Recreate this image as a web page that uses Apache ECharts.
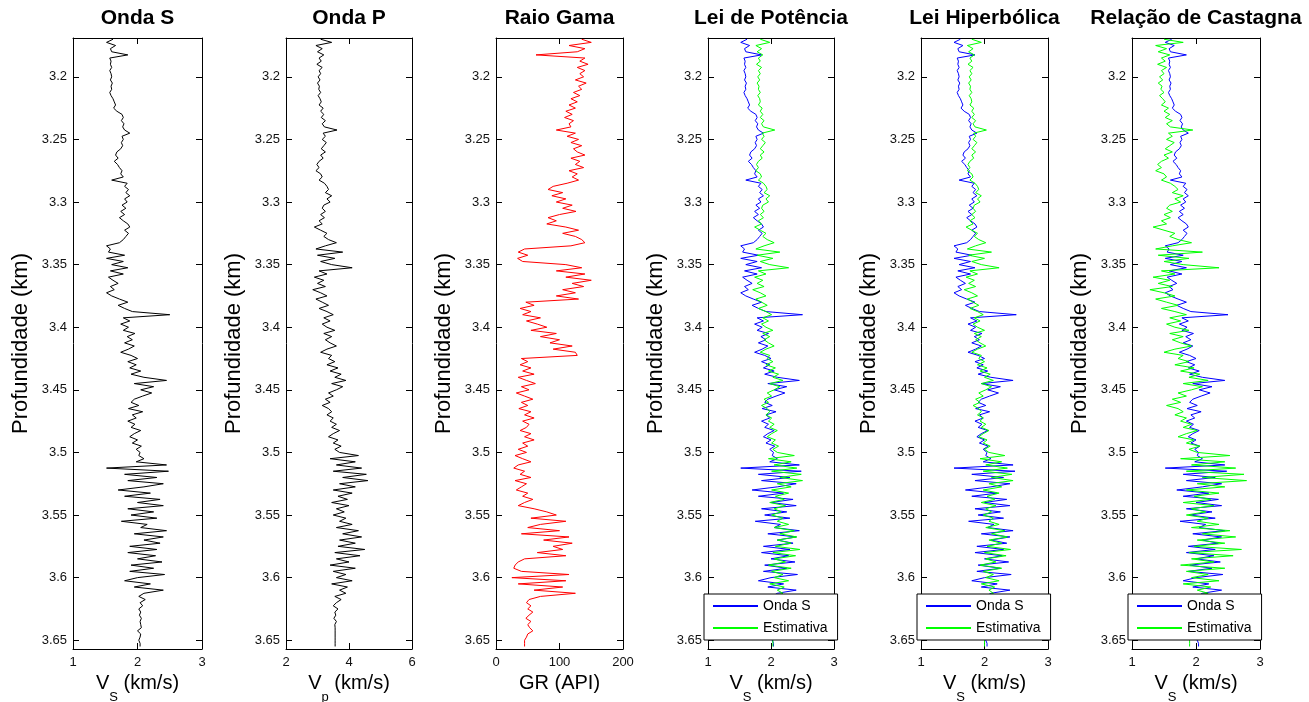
<!DOCTYPE html>
<html><head><meta charset="utf-8">
<script src="https://cdn.jsdelivr.net/npm/echarts@6/dist/echarts.min.js"></script>
<style>html,body{margin:0;padding:0;background:#fff}#c{width:1309px;height:702px}</style>
</head><body><div id="c"></div>
<script>
// sampling grid of the logs (km)
const depthStart = 3.17, depthStep = 0.0025;
const depthTicks = [3.2, 3.25, 3.3, 3.35, 3.4, 3.45, 3.5, 3.55, 3.6, 3.65];
const titles = ['Onda S', 'Onda P', 'Raio Gama', 'Lei de Potência', 'Lei Hiperbólica', 'Relação de Castagna'];
const xTicks = [[1, 2, 3], [2, 4, 6], [0, 100, 200], [1, 2, 3], [1, 2, 3], [1, 2, 3]];
const legendNames = ['Onda S', 'Estimativa'];

// Onda S (km/s)
const vs = [1.62,1.52,1.66,1.58,1.60,1.85,1.57,1.59,1.58,1.60,1.57,1.59,1.60,1.58,1.61,1.59,
1.60,1.57,1.59,1.62,1.64,1.66,1.63,1.68,1.76,1.78,1.75,1.79,1.77,1.80,1.88,1.76,
1.78,1.75,1.77,1.74,1.68,1.66,1.70,1.64,1.69,1.72,1.76,1.74,1.78,1.60,1.84,1.80,
1.86,1.82,1.88,1.80,1.84,1.76,1.82,1.74,1.80,1.72,1.78,1.85,1.88,1.80,1.86,1.82,
1.78,1.72,1.52,1.58,1.55,1.80,1.52,1.78,1.60,1.85,1.58,1.78,1.55,1.62,1.70,1.58,
1.64,1.52,1.60,1.72,1.85,1.70,1.80,1.92,2.50,1.78,1.88,1.74,1.86,1.78,1.96,1.84,
1.92,1.80,1.95,1.86,1.74,1.90,2.00,1.85,1.98,1.88,2.05,1.90,2.10,2.45,1.95,2.25,
2.05,2.22,2.08,1.95,1.90,2.02,1.86,2.08,1.92,1.98,1.85,1.96,1.90,2.05,1.95,1.88,
2.00,1.92,2.06,1.98,2.04,2.02,2.10,1.98,2.45,1.52,2.48,1.80,2.30,1.85,2.40,2.10,
1.70,2.20,1.80,2.35,2.00,2.40,1.85,2.25,1.90,2.30,1.75,2.15,2.05,2.45,1.95,2.40,
2.10,2.35,1.88,2.30,1.85,2.28,2.00,2.38,1.90,2.25,1.88,2.42,2.00,1.80,2.20,1.95,
2.40,2.10,2.02,2.12,2.04,2.08,2.02,2.05,2.03,2.06,2.04,2.05,2.06,2.00,2.05,2.04,
2.02,2.04,2.04];

// Onda P (km/s)
const vp = [3.10,3.45,2.95,3.15,3.00,3.20,3.05,3.12,2.98,3.15,3.05,3.10,3.02,3.08,3.00,3.06,
3.04,3.10,3.02,3.08,3.12,3.05,3.18,3.10,3.20,3.12,3.25,3.15,3.22,3.62,3.18,3.25,
3.15,3.28,3.20,3.12,3.25,3.10,3.18,3.05,2.98,3.05,2.95,3.10,3.15,3.05,3.22,3.30,
3.35,3.25,3.45,3.30,3.40,3.20,3.15,3.25,3.10,3.22,3.05,3.15,2.90,3.10,3.30,3.20,
3.35,3.60,3.25,2.95,3.80,3.00,3.55,3.10,3.45,4.10,3.05,3.30,2.90,3.20,3.00,3.25,
2.85,3.10,3.30,2.95,3.15,3.35,3.05,3.30,3.50,3.20,3.40,3.15,3.30,3.55,3.20,3.45,
3.25,3.40,3.60,3.30,3.10,3.45,3.35,3.55,3.30,3.65,3.40,3.75,3.55,3.90,3.45,3.80,
3.60,3.35,3.50,3.25,3.40,3.15,3.35,3.45,3.30,3.50,3.40,3.60,3.45,3.70,3.50,3.35,
3.65,3.50,3.75,3.55,3.70,4.30,3.40,4.20,3.60,4.40,3.50,4.55,3.80,4.60,3.70,4.20,
3.50,4.10,3.65,3.95,3.45,4.00,3.60,3.85,3.50,3.90,3.70,4.10,3.60,4.30,3.80,4.40,
3.70,4.20,3.65,4.50,3.55,4.35,3.60,4.00,3.40,4.20,3.50,3.90,3.60,4.10,3.45,3.95,
3.70,3.90,3.55,3.75,3.60,3.50,3.65,3.55,3.58,3.52,3.60,3.55,3.56,3.56,3.56,3.56,
3.56,3.56,3.56];

// Raio Gama (API)
const gr = [135,150,115,140,128,63,140,132,145,128,140,132,138,125,142,130,
135,122,132,118,128,115,125,110,120,108,122,115,118,95,125,112,
130,118,135,122,128,140,118,132,125,138,115,128,120,130,112,90,
82,105,88,110,95,120,105,126,100,82,95,80,110,130,105,125,
135,140,118,45,35,50,34,42,110,135,95,140,110,150,120,138,
105,125,95,130,47,60,38,55,42,70,48,65,80,55,95,70,
100,85,120,90,125,128,40,50,38,55,42,60,35,48,62,40,
52,32,45,58,40,50,36,55,45,60,42,52,48,38,55,45,
60,42,50,35,48,30,42,55,35,28,45,38,55,30,48,40,
32,50,42,58,45,35,60,80,95,55,110,70,50,100,40,115,
75,120,90,105,65,110,45,35,30,28,40,115,25,110,35,105,
60,125,70,52,48,55,50,58,52,47,55,50,53,58,50,48,
45,45,45];

// Estimativa - Lei de Potência (km/s)
const estPot = [1.83,1.98,1.76,1.85,1.78,1.87,1.80,1.83,1.77,1.85,1.80,1.83,1.79,1.82,1.78,1.81,
1.80,1.83,1.79,1.82,1.83,1.80,1.86,1.83,1.87,1.83,1.89,1.85,1.88,2.06,1.86,1.89,
1.85,1.91,1.87,1.83,1.89,1.83,1.86,1.80,1.77,1.80,1.76,1.83,1.85,1.80,1.88,1.92,
1.94,1.89,1.98,1.92,1.96,1.87,1.85,1.89,1.83,1.88,1.80,1.85,1.74,1.83,1.92,1.87,
1.94,2.05,1.89,1.76,2.14,1.78,2.03,1.83,1.98,2.28,1.80,1.92,1.74,1.87,1.78,1.89,
1.71,1.83,1.92,1.76,1.85,1.94,1.80,1.92,2.01,1.87,1.96,1.85,1.92,2.03,1.87,1.98,
1.89,1.96,2.05,1.92,1.83,1.98,1.94,2.03,1.92,2.07,1.96,2.12,2.03,2.19,1.98,2.14,
2.05,1.94,2.01,1.89,1.96,1.85,1.94,1.98,1.92,2.01,1.96,2.05,1.98,2.10,2.01,1.94,
2.07,2.01,2.12,2.03,2.10,2.37,1.96,2.32,2.05,2.41,2.01,2.48,2.14,2.50,2.10,2.32,
2.01,2.28,2.07,2.21,1.98,2.23,2.05,2.16,2.01,2.19,2.10,2.28,2.05,2.37,2.14,2.41,
2.10,2.32,2.07,2.46,2.03,2.39,2.05,2.23,1.96,2.32,2.01,2.19,2.05,2.28,1.98,2.21,
2.10,2.19,2.03,2.12,2.05,2.01,2.07,2.03,2.04,2.01,2.05,2.03,2.03,2.03,2.03,2.03,
2.03,2.03,2.03];

// Estimativa - Lei Hiperbólica (km/s)
const estHip = [1.80,1.95,1.73,1.82,1.75,1.84,1.77,1.80,1.74,1.82,1.77,1.80,1.76,1.79,1.75,1.78,
1.77,1.80,1.76,1.79,1.80,1.77,1.83,1.80,1.84,1.80,1.86,1.82,1.85,2.03,1.83,1.86,
1.82,1.88,1.84,1.80,1.86,1.80,1.83,1.77,1.74,1.77,1.73,1.80,1.82,1.77,1.85,1.89,
1.91,1.86,1.95,1.89,1.93,1.84,1.82,1.86,1.80,1.85,1.77,1.82,1.71,1.80,1.89,1.84,
1.91,2.02,1.86,1.73,2.11,1.75,2.00,1.80,1.95,2.23,1.77,1.89,1.71,1.84,1.75,1.86,
1.68,1.80,1.89,1.73,1.82,1.91,1.77,1.89,1.98,1.84,1.93,1.82,1.89,2.00,1.84,1.95,
1.86,1.93,2.02,1.89,1.80,1.95,1.91,2.00,1.89,2.04,1.93,2.09,2.00,2.14,1.95,2.11,
2.02,1.91,1.98,1.86,1.93,1.82,1.91,1.95,1.89,1.98,1.93,2.02,1.95,2.07,1.98,1.91,
2.04,1.98,2.09,2.00,2.07,2.32,1.93,2.27,2.02,2.36,1.98,2.43,2.11,2.45,2.07,2.27,
1.98,2.23,2.04,2.16,1.95,2.18,2.02,2.11,1.98,2.14,2.07,2.23,2.02,2.32,2.11,2.36,
2.07,2.27,2.04,2.41,2.00,2.34,2.02,2.18,1.93,2.27,1.98,2.14,2.02,2.23,1.95,2.16,
2.07,2.14,2.00,2.09,2.02,1.98,2.04,2.00,2.01,1.98,2.02,2.00,2.00,2.00,2.00,2.00,
2.00,2.00,2.00];

// Estimativa - Relação de Castagna (km/s)
const estCast = [1.50,1.80,1.37,1.54,1.41,1.59,1.46,1.52,1.40,1.54,1.46,1.50,1.43,1.48,1.41,1.47,
1.45,1.50,1.43,1.48,1.52,1.46,1.57,1.50,1.59,1.52,1.63,1.54,1.60,1.95,1.57,1.63,
1.54,1.66,1.59,1.52,1.63,1.50,1.57,1.46,1.40,1.46,1.37,1.50,1.54,1.46,1.60,1.67,
1.72,1.63,1.80,1.67,1.76,1.59,1.54,1.63,1.50,1.60,1.46,1.54,1.33,1.50,1.67,1.59,
1.72,1.93,1.63,1.37,2.10,1.41,1.89,1.50,1.80,2.36,1.46,1.67,1.33,1.59,1.41,1.63,
1.28,1.50,1.67,1.37,1.54,1.72,1.46,1.67,1.85,1.59,1.76,1.54,1.67,1.89,1.59,1.80,
1.63,1.76,1.93,1.67,1.50,1.80,1.72,1.89,1.67,1.97,1.76,2.06,1.89,2.19,1.80,2.10,
1.93,1.72,1.85,1.63,1.76,1.54,1.72,1.80,1.67,1.85,1.76,1.93,1.80,2.02,1.85,1.72,
1.97,1.85,2.06,1.89,2.02,2.53,1.76,2.45,1.93,2.62,1.85,2.75,2.10,2.79,2.02,2.45,
1.85,2.36,1.97,2.23,1.80,2.28,1.93,2.15,1.85,2.19,2.02,2.36,1.93,2.53,2.10,2.62,
2.02,2.45,1.97,2.71,1.89,2.58,1.93,2.28,1.76,2.45,1.85,2.19,1.93,2.36,1.80,2.23,
2.02,2.19,1.89,2.06,1.93,1.85,1.97,1.89,1.91,1.86,1.93,1.89,1.90,1.90,1.90,1.90,
1.90,1.90,1.90];

const FONT = '"Liberation Sans", Arial, Helvetica, sans-serif';
const toPts = arr => arr.map((v, i) => [v, +(depthStart + i * depthStep).toFixed(5)]);

const panels = [
  {left: 73,   width: 129, xname: '{a|V}{b|S}{a| (km/s)}', lines: [{name: 'Onda S (perfil)', data: vs, color: '#000000'}]},
  {left: 286,  width: 126, xname: '{a|V}{b|p}{a| (km/s)}', lines: [{name: 'Onda P (perfil)', data: vp, color: '#000000'}]},
  {left: 496,  width: 127, xname: '{a|GR (API)}', lines: [{name: 'Raio Gama (perfil)', data: gr, color: '#ff0000'}]},
  {left: 708,  width: 126, xname: '{a|V}{b|S}{a| (km/s)}', legend: true, lines: [{name: legendNames[0], data: vs, color: '#0000ff'}, {name: legendNames[1], data: estPot, color: '#00ff00'}]},
  {left: 921,  width: 127, xname: '{a|V}{b|S}{a| (km/s)}', legend: true, lines: [{name: legendNames[0], data: vs, color: '#0000ff'}, {name: legendNames[1], data: estHip, color: '#00ff00'}]},
  {left: 1132, width: 128, xname: '{a|V}{b|S}{a| (km/s)}', legend: true, lines: [{name: legendNames[0], data: vs, color: '#0000ff'}, {name: legendNames[1], data: estCast, color: '#00ff00'}]}
];

const TOP = 38, HEIGHT = 611, YMIN = 3.169, YMAX = 3.657;
const grid = [], xAxis = [], yAxis = [], series = [], graphic = [], legend = [];
const lineCol = '#000';
panels.forEach((p, k) => {
  const t = xTicks[k];
  const xmin = t[0], xmax = t[t.length - 1], xint = t[1] - t[0];
  grid.push({left: p.left, top: TOP, width: p.width, height: HEIGHT, show: false,
    containLabel: false, outerBoundsMode: 'none'});
  const axBase = {
    gridIndex: k, type: 'value', min: xmin, max: xmax, interval: xint,
    axisLine: {show: true, onZero: false, lineStyle: {color: lineCol, width: 1}},
    axisTick: {show: true, inside: true, length: 6, lineStyle: {color: lineCol}},
    splitLine: {show: false}
  };
  xAxis.push(Object.assign({}, axBase, {
    position: 'bottom',
    axisLabel: {show: true, margin: 7, fontSize: 13, color: '#111', fontFamily: FONT},
    name: p.xname, nameLocation: 'middle', nameGap: 14,
    nameTextStyle: {
      color: '#000', fontFamily: FONT,
      rich: {
        a: {fontSize: 20, lineHeight: 41, color: '#000', fontFamily: FONT},
        b: {fontSize: 13, lineHeight: 13, verticalAlign: 'bottom', color: '#000', fontFamily: FONT}
      }
    }
  }));
  xAxis.push(Object.assign({}, axBase, {position: 'top', axisLabel: {show: false}}));
  const yBase = {
    gridIndex: k, type: 'value', inverse: true, min: YMIN, max: YMAX,
    axisLine: {show: true, onZero: false, lineStyle: {color: lineCol, width: 1}},
    axisTick: {show: true, inside: true, length: 6, customValues: depthTicks, lineStyle: {color: lineCol}},
    splitLine: {show: false}
  };
  yAxis.push(Object.assign({}, yBase, {
    position: 'left',
    axisLabel: {show: true, margin: 6, fontSize: 13, color: '#111', fontFamily: FONT, customValues: depthTicks},
    name: 'Profundidade (km)', nameLocation: 'middle', nameGap: 41,
    nameTextStyle: {fontSize: 22, color: '#000', fontFamily: FONT}
  }));
  yAxis.push(Object.assign({}, yBase, {position: 'right', axisLabel: {show: false}}));
  p.lines.forEach(l => {
    series.push({
      type: 'line', name: l.name, xAxisIndex: 2 * k, yAxisIndex: 2 * k,
      data: toPts(l.data), symbol: 'none', showSymbol: false, clip: true,
      lineStyle: {color: l.color, width: 1}, itemStyle: {color: l.color},
      emphasis: {disabled: true}, silent: true
    });
  });
  graphic.push({
    type: 'text', x: p.left + p.width / 2, y: 18,
    style: {text: titles[k], textAlign: 'center', textVerticalAlign: 'middle',
      fontSize: 21, fontWeight: 'bold', fontFamily: FONT, fill: '#000'}
  });
  if (p.legend) {
    legend.push({
      left: p.left - 4, top: 594, orient: 'vertical',
      data: legendNames,
      backgroundColor: '#fff', borderColor: '#000', borderWidth: 1,
      padding: [5, 10, 5, 8], itemGap: 8, itemWidth: 45, itemHeight: 14, itemTextGap: 6,
      selectedMode: false,
      itemStyle: {opacity: 0, borderWidth: 0},
      textStyle: {fontSize: 14, color: '#000', fontFamily: FONT}
    });
  }
});

const chart = echarts.init(document.getElementById('c'), null, {renderer: 'canvas'});
chart.setOption({
  animation: false, backgroundColor: '#fff',
  grid, xAxis, yAxis, series, graphic, legend
});
</script></body></html>
